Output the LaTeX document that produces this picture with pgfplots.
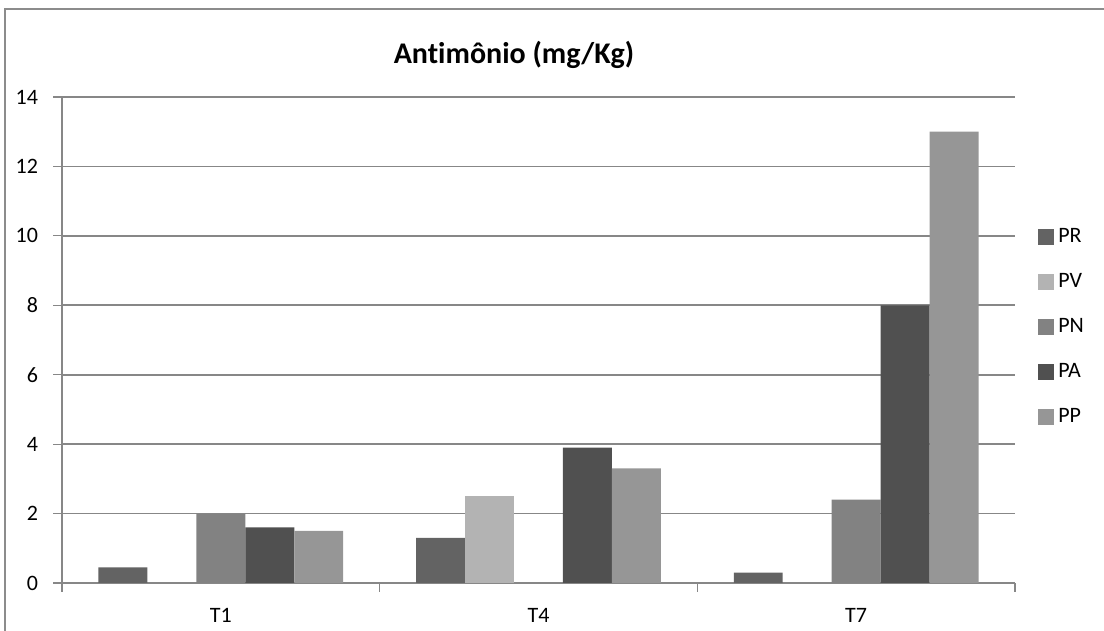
\documentclass[border=0pt]{standalone}
\usepackage{pgfplots}
\pgfplotsset{compat=1.18}
\usepackage{fontspec}
\setmainfont{Carlito}[Ligatures=NoCommon]

\definecolor{cPR}{RGB}{99,99,99}
\definecolor{cPV}{RGB}{179,179,179}
\definecolor{cPN}{RGB}{130,130,130}
\definecolor{cPA}{RGB}{80,80,80}
\definecolor{cPP}{RGB}{150,150,150}
\definecolor{gridgray}{RGB}{135,135,135}
\definecolor{framegray}{RGB}{140,140,140}

\begin{document}
\begin{tikzpicture}
\useasboundingbox (0,0) rectangle (552pt,315.5pt);
% outer chart frame
\draw[framegray, line width=1.2pt] (2.5pt,-5pt) -- (2.5pt,311pt) -- (560pt,311pt);

\begin{axis}[
  at={(31pt,24pt)}, anchor=south west,
  scale only axis, width=476.5pt, height=243pt,
  xmin=-0.5, xmax=2.5, ymin=0, ymax=14,
  ytick={0,2,...,14},
  xtick={-0.5,0.5,1.5,2.5}, xticklabels={},
  extra x ticks={0,1,2}, extra x tick labels={T1,T4,T7},
  extra x tick style={major tick length=0pt, grid=none,
    xticklabel style={yshift=-9pt}},
  axis x line*=bottom, axis y line*=left,
  axis line style={gridgray, line width=0.6pt, -},
  tick align=outside, major tick length=4.5pt,
  tick style={gridgray, line width=0.6pt},
  ymajorgrids, major grid style={gridgray, line width=0.8pt},
  /pgf/number format/assume math mode=true,
  tick label style={font=\fontsize{11}{13}\selectfont, text=black},
  yticklabel style={xshift=-4pt},
  ybar=0pt, bar width=0.1541,
  legend style={at={(1.024,0.527)}, anchor=west, draw=none, fill=none,
    font=\fontsize{11}{12}\selectfont, row sep=10pt,
    inner sep=0pt},
  legend cell align=left,
  legend image code/.code={\fill[#1] (0pt,-4pt) rectangle (8pt,4pt);},
]
\addplot[fill=cPR, draw=none, bar shift=-0.3082] coordinates {(0,0.45) (1,1.3) (2,0.3)};
\addplot[fill=cPV, draw=none, bar shift=-0.1541] coordinates {(1,2.5)};
\addplot[fill=cPN, draw=none, bar shift=0] coordinates {(0,2.0) (2,2.4)};
\addplot[fill=cPA, draw=none, bar shift=0.1541] coordinates {(0,1.6) (1,3.9) (2,8.0)};
\addplot[fill=cPP, draw=none, bar shift=0.3082] coordinates {(0,1.5) (1,3.3) (2,13.0)};
\legend{PR,PV,PN,PA,PP}
\end{axis}

\node[font=\bfseries\fontsize{15}{17}\selectfont] at (257pt,288pt) {Antimônio (mg/Kg)};
\end{tikzpicture}
\end{document}
